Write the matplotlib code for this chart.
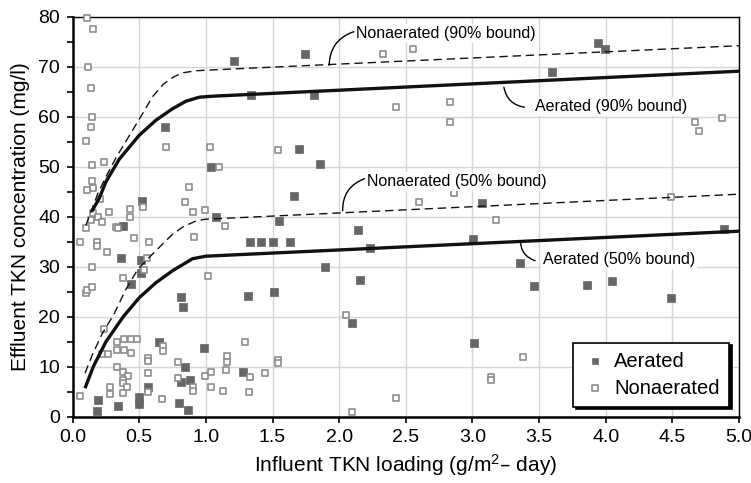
import matplotlib
matplotlib.use("Agg")
import matplotlib.pyplot as plt
from matplotlib.ticker import MultipleLocator

plt.rcParams['font.family'] = ['Liberation Sans', 'DejaVu Sans']
plt.rcParams['mathtext.default'] = 'regular'

# ---- data ----
aer_x = [1.21, 0.693, 1.04, 0.52, 1.075, 0.376, 0.365, 0.51, 0.51, 0.438, 0.815, 0.83,
         0.648, 0.988, 0.845, 0.815, 0.88, 1.28, 0.568, 0.193, 0.185, 0.338, 0.498, 0.498,
         0.798, 0.866, 1.745, 1.34, 1.81, 1.70, 1.855, 1.66, 3.07, 1.55, 2.14, 1.33, 1.41,
         1.50, 1.63, 2.23, 3.005, 1.89, 2.16, 1.315, 1.51, 2.10, 3.015, 3.94, 3.995, 3.595,
         4.89, 3.36, 3.46, 3.86, 4.05, 4.49]
aer_y = [71.1, 57.9, 49.9, 43.1, 39.9, 38.1, 31.8, 31.3, 28.7, 26.5, 23.9, 21.9,
         14.9, 13.7, 9.9, 7.0, 7.3, 8.9, 6.0, 3.3, 1.2, 2.2, 4.0, 2.5,
         2.8, 1.4, 72.5, 64.3, 64.3, 53.5, 50.5, 44.1, 42.8, 39.2, 37.3, 34.9, 34.9,
         34.9, 34.9, 33.7, 35.5, 29.9, 27.3, 24.1, 24.9, 18.8, 14.8, 74.7, 73.5, 68.9,
         37.5, 30.7, 26.1, 26.3, 27.1, 23.7]

non_x = [0.11, 0.15, 0.113, 0.136, 0.143, 0.136, 0.098, 0.703, 1.03, 1.10, 0.145, 0.233,
         0.145, 0.106, 0.155, 0.205, 0.87, 0.845, 0.90, 0.99, 0.433, 0.528, 0.275, 0.15,
         0.055, 0.10, 0.138, 0.193, 0.218, 0.433, 0.326, 0.338, 0.463, 0.573, 0.18, 0.18,
         0.255, 0.148, 0.556, 0.533, 0.38, 0.10, 0.106, 0.148, 0.233, 0.218, 0.263, 0.335,
         0.335, 0.386, 0.436, 0.486, 0.386, 0.438,
         1.14, 0.913, 1.015, 0.676, 0.676, 0.335, 0.376, 0.413, 0.376, 0.376, 0.405, 0.566,
         0.28, 0.28, 0.38, 0.566, 0.566, 0.566, 0.055, 0.67, 0.788, 0.79, 0.905, 0.905,
         0.993, 1.04, 1.04, 1.125, 1.155, 1.16, 1.15, 1.295, 1.32, 1.33,
         2.33, 2.555, 2.43, 2.83, 2.83, 1.54, 2.60, 2.86, 2.05, 1.54, 1.54, 1.44, 2.43,
         2.10, 4.67, 4.70, 4.87, 4.49, 3.175, 3.38, 3.14, 3.14]
non_y = [79.8, 77.6, 70.0, 65.8, 59.9, 57.9, 55.2, 53.9, 53.9, 50.0, 50.4, 50.9,
         47.1, 45.3, 45.8, 43.5, 45.9, 42.9, 41.0, 41.4, 41.5, 41.9, 40.9, 40.7,
         35.0, 37.8, 39.3, 39.9, 39.0, 39.9, 37.9, 37.7, 35.8, 34.9, 35.0, 34.2,
         32.9, 30.0, 31.8, 29.4, 27.7, 24.7, 25.4, 25.9, 17.5, 12.5, 12.5, 14.9,
         13.3, 15.5, 15.5, 15.5, 13.4, 12.8,
         38.2, 35.9, 28.1, 14.1, 13.2, 10.0, 8.9, 8.2, 7.4, 6.8, 6.0, 8.7,
         6.0, 4.5, 4.7, 11.8, 11.1, 4.9, 4.1, 3.5, 10.9, 7.8, 5.9, 5.2,
         8.2, 8.9, 6.0, 5.1, 12.1, 11.0, 9.3, 15.0, 4.9, 8.0,
         72.5, 73.5, 61.9, 62.9, 59.0, 53.3, 42.9, 44.8, 20.4, 11.3, 10.8, 8.7, 3.7,
         0.9, 58.9, 57.1, 59.7, 43.9, 39.3, 12.0, 8.0, 7.3]

# bound curves
a90_x = [0.143, 0.2, 0.25, 0.35, 0.5, 0.625, 0.75, 0.85, 0.95, 1.05, 5.0]
a90_y = [41.0, 43.7, 47.0, 51.5, 56.3, 59.3, 61.6, 63.1, 63.9, 64.1, 69.1]
n90_x = [0.10, 0.19, 0.25, 0.33, 0.5, 0.6, 0.68, 0.76, 0.83, 0.93, 1.0, 5.0]
n90_y = [38.3, 44.7, 48.0, 52.0, 59.5, 64.0, 66.5, 68.0, 68.8, 69.2, 69.3, 74.2]
a50_x = [0.093, 0.155, 0.25, 0.38, 0.5, 0.625, 0.75, 0.9, 1.0, 5.0]
a50_y = [5.7, 10.0, 15.0, 20.0, 23.8, 26.8, 29.2, 31.6, 32.1, 37.1]
n50_x = [0.093, 0.15, 0.22, 0.31, 0.4, 0.49, 0.58, 0.655, 0.75, 0.83, 0.93, 1.0, 5.0]
n50_y = [8.7, 12.5, 16.5, 20.5, 25.5, 29.5, 32.0, 34.0, 36.5, 38.0, 39.2, 39.5, 44.5]

# ---- figure ----
fig = plt.figure(figsize=(7.51, 4.83), dpi=100)
ax = fig.add_axes([0.0967, 0.1373, 0.8873, 0.8281])

ax.set_xlim(0, 5)
ax.set_ylim(0, 80)
ax.xaxis.set_major_locator(MultipleLocator(0.5))
ax.yaxis.set_major_locator(MultipleLocator(10))
ax.yaxis.set_minor_locator(MultipleLocator(5))
ax.xaxis.set_major_formatter(matplotlib.ticker.FormatStrFormatter('%.1f'))
ax.grid(True, which='major', color='#d6d6d6', lw=1.0)
ax.set_axisbelow(True)

for s in ['left', 'bottom']:
    ax.spines[s].set_linewidth(1.8)
for s in ['top', 'right']:
    ax.spines[s].set_linewidth(1.0)
ax.tick_params(axis='both', which='both', direction='out', length=4, width=1.2,
               labelsize=14, colors='black')
ax.tick_params(axis='y', which='minor', length=4)
ax.tick_params(axis='x', pad=5)
ax.tick_params(axis='y', pad=5)

ax.scatter(aer_x, aer_y, marker='s', s=28, facecolor='#666666', edgecolor='#666666',
           linewidths=0.5, label='Aerated', zorder=3, clip_on=False)
ax.scatter(non_x, non_y, marker='s', s=24, facecolor='white', edgecolor='#8c8c8c',
           linewidths=1.2, label='Nonaerated', zorder=3, clip_on=False)

ax.plot(a90_x, a90_y, color='#111111', lw=2.4, zorder=4, solid_capstyle='butt')
ax.plot(a50_x, a50_y, color='#111111', lw=2.4, zorder=4, solid_capstyle='butt')
ax.plot(n90_x, n90_y, color='#111111', lw=1.0, ls=(0, (6, 3.5)), zorder=4)
ax.plot(n50_x, n50_y, color='#111111', lw=1.0, ls=(0, (6, 3.5)), zorder=4)

tb = dict(facecolor='white', edgecolor='none', pad=1.5)
ax.text(2.125, 76.7, 'Nonaerated (90% bound)', fontsize=11.5, va='center', ha='left',
        bbox=tb, zorder=5)
ax.annotate('', xy=(1.925, 70.3), xytext=(2.11, 77.0),
            arrowprops=dict(arrowstyle='-', color='black', lw=1.0,
                            connectionstyle='arc3,rad=0.35', shrinkA=0, shrinkB=0), zorder=5)
ax.text(2.21, 47.0, 'Nonaerated (50% bound)', fontsize=11.5, va='center', ha='left',
        bbox=tb, zorder=5)
ax.annotate('', xy=(2.026, 41.2), xytext=(2.19, 47.6),
            arrowprops=dict(arrowstyle='-', color='black', lw=1.0,
                            connectionstyle='arc3,rad=0.35', shrinkA=0, shrinkB=0), zorder=5)
ax.text(3.47, 62.1, 'Aerated (90% bound)', fontsize=11.5, va='center', ha='left',
        bbox=tb, zorder=5)
ax.annotate('', xy=(3.236, 65.9), xytext=(3.39, 61.9),
            arrowprops=dict(arrowstyle='-', color='black', lw=1.0,
                            connectionstyle='arc3,rad=-0.35', shrinkA=0, shrinkB=0), zorder=5)
ax.text(3.53, 31.5, 'Aerated (50% bound)', fontsize=11.5, va='center', ha='left',
        bbox=tb, zorder=5)
ax.annotate('', xy=(3.36, 35.2), xytext=(3.47, 31.2),
            arrowprops=dict(arrowstyle='-', color='black', lw=1.0,
                            connectionstyle='arc3,rad=-0.35', shrinkA=0, shrinkB=0), zorder=5)

ax.set_xlabel('Influent TKN loading (g/m$^{2}$\u2013 day)', fontsize=15, labelpad=4)
ax.set_ylabel('Effluent TKN concentration (mg/l)', fontsize=15, labelpad=6)

leg = ax.legend(loc='lower right', bbox_to_anchor=(0.985, 0.025), fontsize=14.5,
                frameon=True, fancybox=False, edgecolor='black', framealpha=1,
                shadow={'color': 'black', 'alpha': 1.0}, markerscale=0.8,
                handletextpad=0.3, borderpad=0.45, labelspacing=0.4, handlelength=1.3,
                borderaxespad=0)
leg.get_frame().set_linewidth(1.2)
leg.set_zorder(6)

fig.savefig('out.png', dpi=100)
